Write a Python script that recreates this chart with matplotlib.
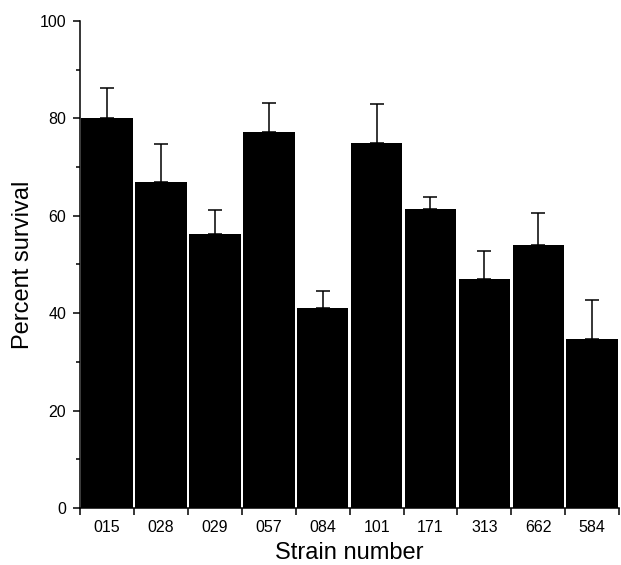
import numpy as np
import matplotlib
matplotlib.use('Agg')
from matplotlib import pyplot as plt
from matplotlib.ticker import MultipleLocator

plt.rcParams['font.family'] = ['Liberation Sans', 'DejaVu Sans']

strains = ['015', '028', '029', '057', '084', '101', '171', '313', '662', '584']
survival = [80.1, 66.9, 56.3, 77.1, 41.0, 75.0, 61.4, 47.0, 54.0, 34.6]
err = [6.2, 7.8, 4.9, 6.0, 3.5, 8.0, 2.5, 5.7, 6.6, 8.1]

fig = plt.figure(figsize=(6.21, 5.65), dpi=100)
ax = fig.add_axes([0.129, 0.101, 0.868, 0.862])

x = np.arange(len(strains))
ax.bar(x, survival, width=0.955, color='black', zorder=2)
# only the upper half of the error bar is drawn
ax.errorbar(x, survival, yerr=[np.zeros(len(err)), err], fmt='none',
            ecolor='black', elinewidth=1.1, capsize=5, capthick=1.1, zorder=1)

ax.set_xlim(-0.5, len(strains) - 0.5)
ax.set_ylim(0, 100)

ax.set_xticks(x)
ax.set_xticklabels(strains, fontsize=11.5)
ax.set_xticks(np.arange(-0.5, len(strains)), minor=True)
ax.tick_params(axis='x', which='major', length=0, pad=9)
ax.tick_params(axis='x', which='minor', length=5, width=1.1, direction='out')

ax.yaxis.set_major_locator(MultipleLocator(20))
ax.yaxis.set_minor_locator(MultipleLocator(10))
ax.tick_params(axis='y', which='major', length=5, width=1.1, labelsize=11.5, pad=5)
ax.tick_params(axis='y', which='minor', length=3, width=1.1)

for s in ['top', 'right']:
    ax.spines[s].set_visible(False)
for s in ['left', 'bottom']:
    ax.spines[s].set_linewidth(1.1)

ax.set_xlabel('Strain number', fontsize=17, labelpad=5)
ax.set_ylabel('Percent survival', fontsize=17, labelpad=4)

fig.savefig('out.png', dpi=100)
